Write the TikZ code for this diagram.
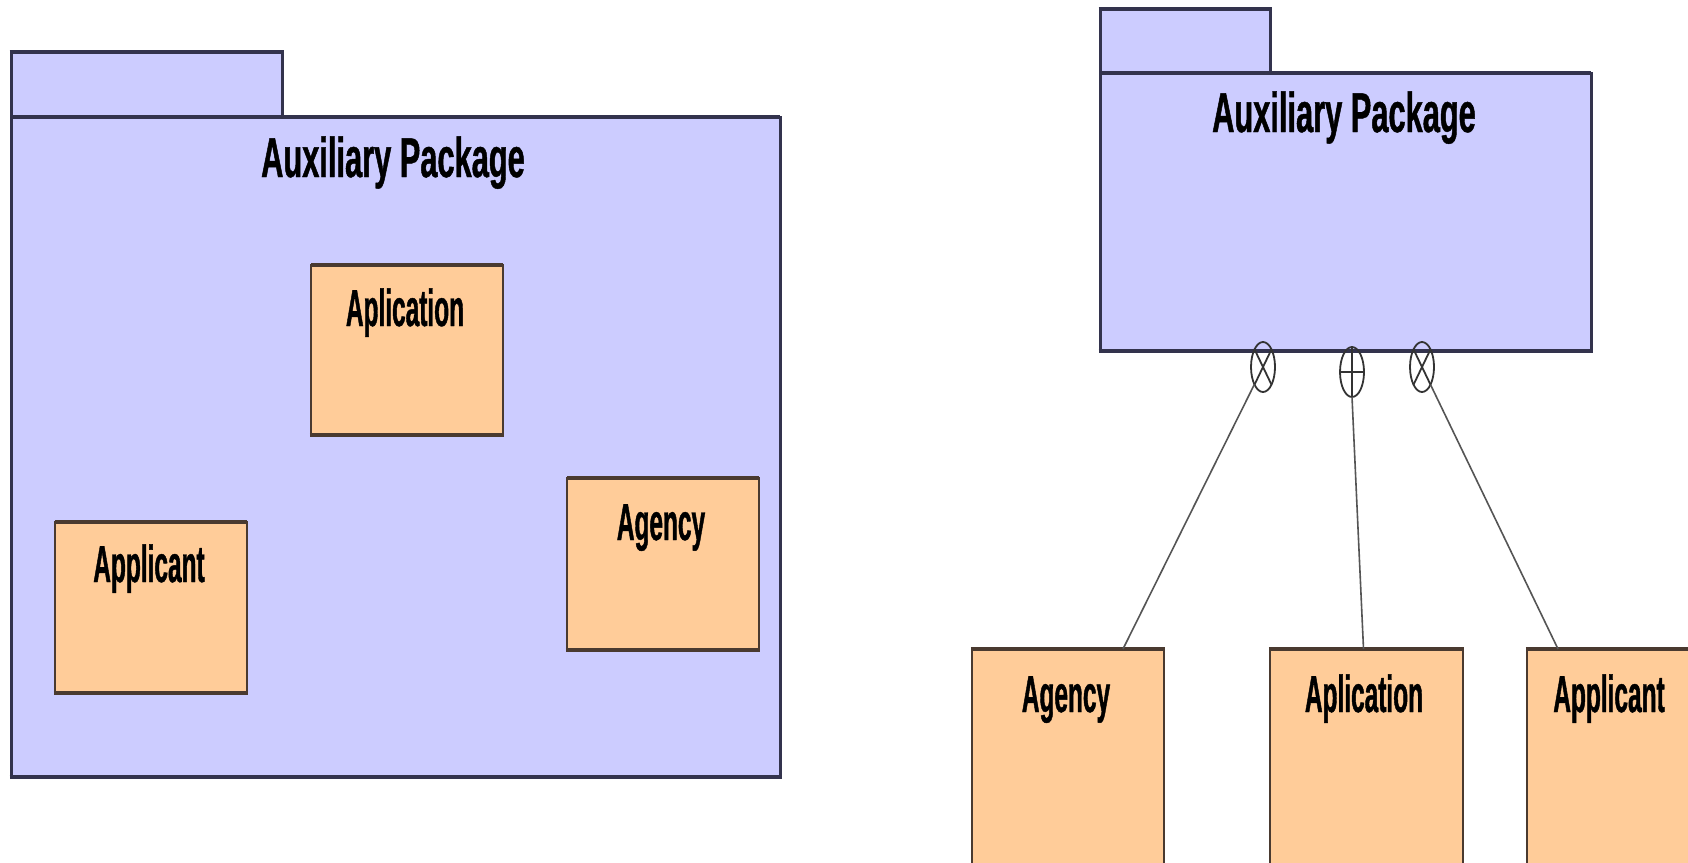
\documentclass[tikz,border=0pt]{standalone}
\usepackage{fontspec}
\setmainfont{Liberation Sans}
\newfontfamily\headfont{Liberation Sans}[FakeStretch=0.55, FakeBold=0.8]
\newfontfamily\classfont{Liberation Sans}[FakeStretch=0.47, FakeBold=0.8]
\usetikzlibrary{shapes.geometric,calc}
\definecolor{pkgfill}{HTML}{CCCCFF}
\definecolor{pkgline}{HTML}{33334D}
\definecolor{clsfill}{HTML}{FFCC99}
\definecolor{clsline}{HTML}{4A3A30}
\definecolor{wirecol}{HTML}{555555}
\tikzset{
  pkgshape/.style={rectangle, draw=pkgline, fill=pkgfill, line width=3pt,
    inner sep=0pt, outer sep=0pt, anchor=north west},
  clsbox/.style={rectangle, draw=clsline, fill=clsfill, line width=2.5pt,
    inner sep=0pt, outer sep=0pt, anchor=north west},
  headtext/.style={font=\headfont\bfseries\fontsize{56}{60}\selectfont,
    text=black, anchor=base, inner sep=0pt},
  clstext/.style={font=\classfont\bfseries\fontsize{52}{58}\selectfont,
    text=black, anchor=base, inner sep=0pt},
  nest/.style={ellipse, draw=black!80, line width=1.8pt, minimum width=24pt,
    minimum height=50pt, inner sep=0pt, outer sep=0pt},
  wire/.style={draw=wirecol, line width=1.6pt},
  pkgedge/.style={draw=pkgline, line width=4.5pt, shorten <=-1.5pt, shorten >=-1.5pt},
  clsedge/.style={draw=clsline, line width=4pt, shorten <=-1.25pt, shorten >=-1.25pt}
}
% heavier top edge of a shape
\newcommand\topedge[2]{\draw[#2] (#1.north west) -- (#1.north east);}
% heavier top and bottom edges of a shape
\newcommand\hedges[2]{\draw[#2] (#1.north west) -- (#1.north east) (#1.south west) -- (#1.south east);}
\begin{document}
\begin{tikzpicture}[x=1pt, y=-1pt]
\clip (0,0) rectangle (1688,862);
\fill[white] (0,0) rectangle (1688,862);

% ---- package with nested classes (containment view) ----
\node[pkgshape, minimum width=271pt, minimum height=65pt] (ltab) at (11,52) {};
\topedge{ltab}{pkgedge}
\node[pkgshape, minimum width=769pt, minimum height=660pt] (lpkg) at (11,117) {};
\hedges{lpkg}{pkgedge}
\node[headtext] (ltitle) at (393,177) {Auxiliary Package};

\node[clsbox, minimum width=192pt, minimum height=170pt] (lapl) at (311,265) {};
\hedges{lapl}{clsedge}
\node[clstext] (laplt) at (405,326) {Aplication};

\node[clsbox, minimum width=192pt, minimum height=171pt] (lapp) at (55,522) {};
\hedges{lapp}{clsedge}
\node[clstext] (lappt) at (149,582) {Applicant};

\node[clsbox, minimum width=192pt, minimum height=172pt] (lagy) at (567,478) {};
\hedges{lagy}{clsedge}
\node[clstext] (lagyt) at (661,540) {Agency};

% ---- package with nesting connectors ----
\node[pkgshape, minimum width=170pt, minimum height=64pt] (rtab) at (1100,9) {};
\topedge{rtab}{pkgedge}
\node[pkgshape, minimum width=491pt, minimum height=278pt] (rpkg) at (1100,73) {};
\hedges{rpkg}{pkgedge}
\node[headtext] (rtitle) at (1344,132) {Auxiliary Package};

\node[clsbox, minimum width=192pt, minimum height=260pt] (ragy) at (972,649) {};
\topedge{ragy}{clsedge}
\node[clstext] (ragyt) at (1066,712) {Agency};

\node[clsbox, minimum width=193pt, minimum height=260pt] (rapl) at (1270,649) {};
\topedge{rapl}{clsedge}
\node[clstext] (raplt) at (1364,712) {Aplication};

\node[clsbox, minimum width=192pt, minimum height=260pt] (rapp) at (1527,649) {};
\topedge{rapp}{clsedge}
\node[clstext] (rappt) at (1609,712) {Applicant};

% nesting symbols on the package edge
\node[nest] (n1) at (1263,367) {};
\node[nest] (n2) at (1352,372) {};
\node[nest] (n3) at (1422,367) {};
\draw[draw=black!80, line width=1.8pt]
  (n1.north west) -- (n1.south east) (n1.north east) -- (n1.south west)
  (n3.north west) -- (n3.south east) (n3.north east) -- (n3.south west)
  (n2.west) -- (n2.east) (n2.north) -- (n2.south);

% connectors to the nested classes
\draw[wire] (n1) -- ($(ragy.north)+(55,0)$);
\draw[wire] (n2.south) -- ($(rapl.north)+(-3,0)$);
\draw[wire] (n3) -- ($(rapp.north west)+(31,0)$);
\end{tikzpicture}
\end{document}
